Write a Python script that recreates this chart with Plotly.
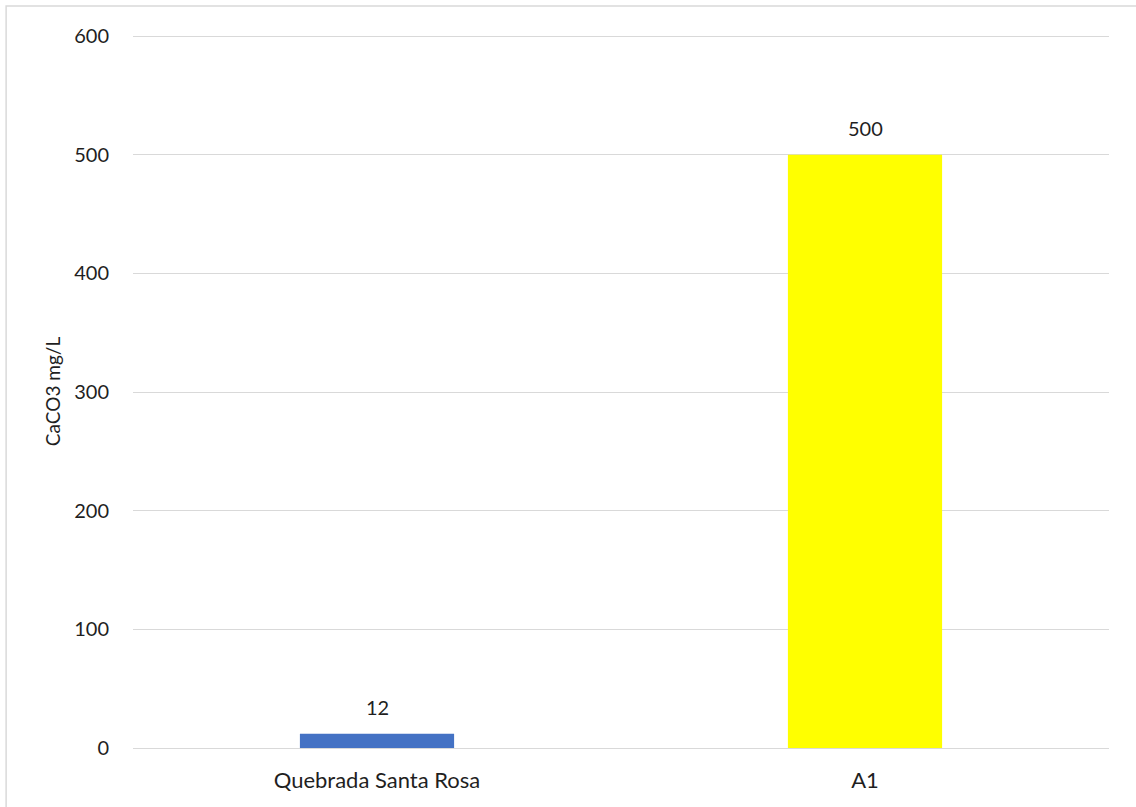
import plotly.graph_objects as go

categories = ["Quebrada Santa Rosa", "A1"]
values = [12, 500]
bar_colors = ["#4472C4", "#FFFF00"]
y_ticks = [0, 100, 200, 300, 400, 500, 600]
y_title = "CaCO3 mg/L"

FONT = "Lato"
TXT = "#1f1f1f"

fig = go.Figure()
fig.add_trace(go.Bar(
    x=categories, y=values, marker=dict(color=bar_colors, line=dict(width=0)),
    width=0.316, hoverinfo="x+y",
))

for c, v in zip(categories, values):
    fig.add_annotation(x=c, y=v, text=str(v), showarrow=False, yanchor="bottom",
                       yshift=13, font=dict(family=FONT, size=20, color=TXT))

# outer chart border
fig.add_shape(type="rect", xref="paper", yref="paper", x0=-0.130, x1=1.2, y0=-0.3, y1=1.0407,
              line=dict(color="#D9D9D9", width=1.5), fillcolor="rgba(0,0,0,0)", layer="below")

fig.update_layout(
    width=1136, height=807,
    margin=dict(l=133, r=27, t=35, b=59),
    paper_bgcolor="white", plot_bgcolor="white",
    showlegend=False,
    font=dict(family=FONT, size=20, color=TXT),
)
fig.update_xaxes(
    type="category", range=[-0.5, 1.5], showgrid=False, showline=False, zeroline=False,
    ticks="outside", ticklen=13, tickcolor="rgba(0,0,0,0)",
    tickfont=dict(family=FONT, size=22, color=TXT),
)
fig.update_yaxes(
    range=[0, 601], tickvals=y_ticks, showgrid=True, gridcolor="#D9D9D9", gridwidth=1.3,
    zeroline=True, zerolinecolor="#D9D9D9", zerolinewidth=1.3, showline=False,
    ticks="outside", ticklen=19, tickcolor="rgba(0,0,0,0)",
    tickfont=dict(family=FONT, size=20, color=TXT),
    title=dict(text=y_title, font=dict(family=FONT, size=19, color=TXT), standoff=8),
)

fig.write_html("out.html", config={"displayModeBar": False},
               post_script="document.body.style.margin='0px';document.body.style.overflow='hidden';")
